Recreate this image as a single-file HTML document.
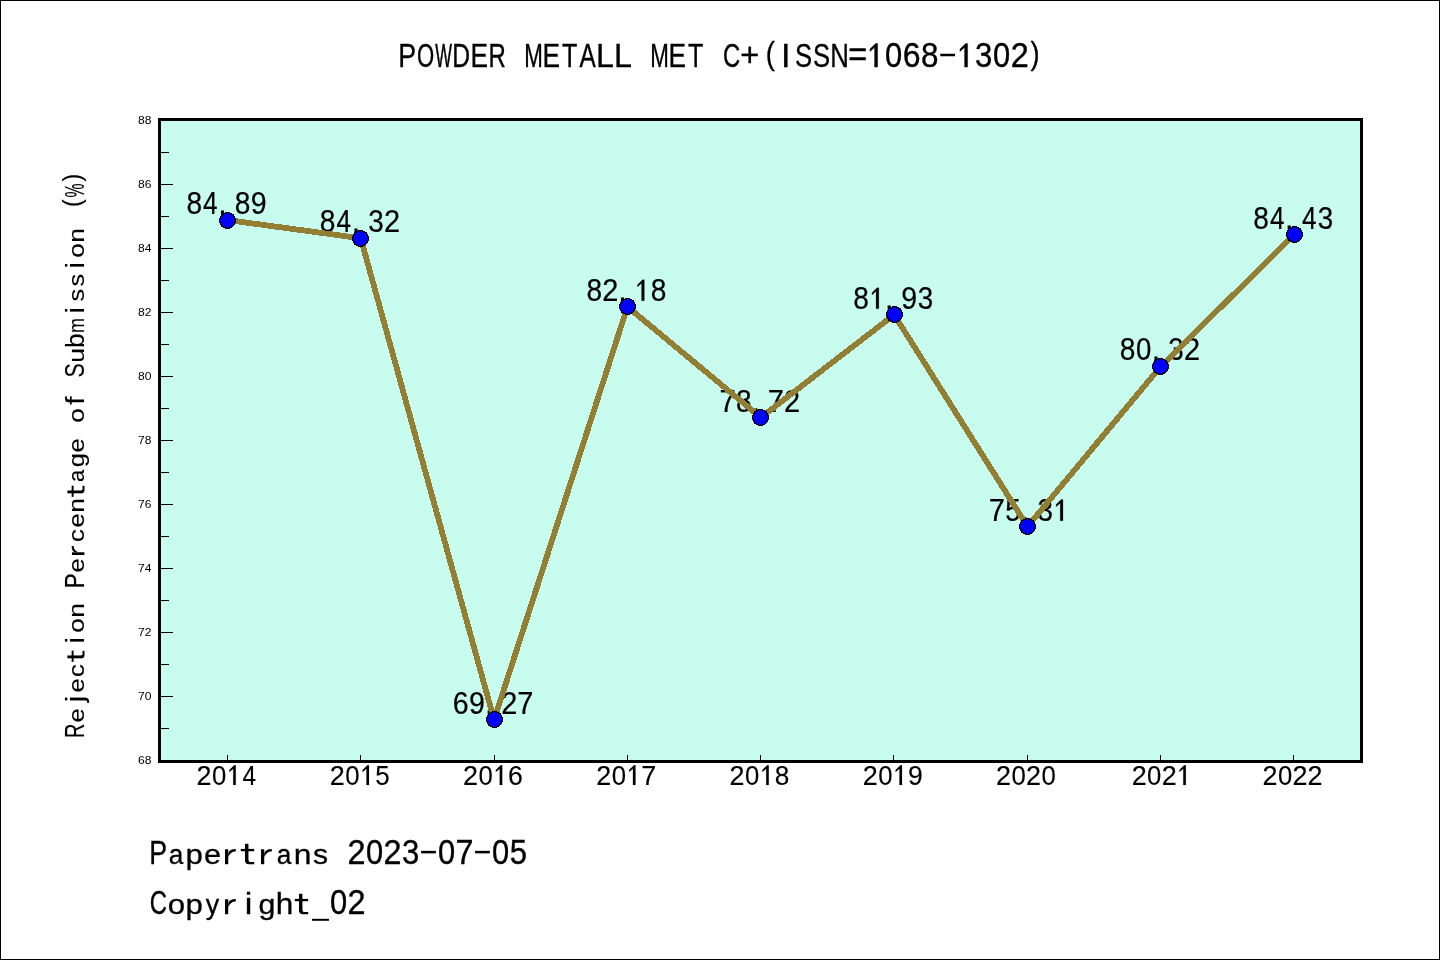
<!DOCTYPE html>
<html><head><meta charset="utf-8"><style>
html,body{margin:0;padding:0;background:#fff;width:1440px;height:960px;overflow:hidden}
svg{display:block;will-change:transform}
svg text{font-family:"Liberation Sans",sans-serif}
</style></head><body>
<svg width="1440" height="960" viewBox="0 0 1440 960">
<rect x="0" y="0" width="1440" height="960" fill="#fff"/>
<rect x="0.5" y="0.5" width="1439" height="959" fill="none" stroke="#000" stroke-width="1"/>
<rect x="159.5" y="119.5" width="1202" height="642" fill="#C8FCEE"/>
<g font-family="Liberation Sans" fill="#000" stroke="#000" stroke-width="0.35">
<g stroke-width="0.35"><text transform="translate(398.35,67.10) scale(0.782,0.960)" font-size="34.16">P</text><text transform="translate(417.04,67.10) scale(0.648,0.960)" font-size="34.16">O</text><text transform="translate(435.29,67.10) scale(0.518,0.960)" font-size="34.16" stroke-width="0.51">W</text><text transform="translate(452.34,67.10) scale(0.721,0.960)" font-size="34.16">D</text><text transform="translate(470.39,67.10) scale(0.768,0.960)" font-size="34.16">E</text><text transform="translate(488.58,67.10) scale(0.701,0.960)" font-size="34.16">R</text><text transform="translate(524.35,67.10) scale(0.654,0.960)" font-size="34.16" stroke-width="0.40">M</text><text transform="translate(542.39,67.10) scale(0.768,0.960)" font-size="34.16">E</text><text transform="translate(561.98,67.10) scale(0.736,0.960)" font-size="34.16">T</text><text transform="translate(579.50,67.10) scale(0.715,0.960)" font-size="34.16">A</text><text transform="translate(595.89,67.10) scale(0.944,0.960)" font-size="34.16">L</text><text transform="translate(613.89,67.10) scale(0.944,0.960)" font-size="34.16">L</text><text transform="translate(650.35,67.10) scale(0.654,0.960)" font-size="34.16" stroke-width="0.40">M</text><text transform="translate(668.39,67.10) scale(0.768,0.960)" font-size="34.16">E</text><text transform="translate(687.98,67.10) scale(0.736,0.960)" font-size="34.16">T</text><text transform="translate(722.88,67.10) scale(0.699,0.960)" font-size="34.16">C</text><text transform="translate(740.14,65.99) scale(0.954,0.948)" font-size="34.16">+</text><text transform="translate(765.75,63.50) scale(0.800,0.916)" font-size="34.16">(</text><text transform="translate(780.90,67.10) scale(1.000,0.960)" font-size="34.16">I</text><text transform="translate(795.11,67.10) scale(0.750,0.960)" font-size="34.16">S</text><text transform="translate(813.11,67.10) scale(0.750,0.960)" font-size="34.16">S</text><text transform="translate(830.34,67.10) scale(0.755,0.960)" font-size="34.16">N</text><text transform="translate(848.14,66.46) scale(0.954,1.000)" font-size="34.16">=</text><polygon points="877.63,43.52 877.63,67.10 874.57,67.10 874.57,47.48 869.96,51.58 869.96,48.99 875.65,43.52"/><text transform="translate(885.06,67.10) scale(0.904,1.000)" font-size="34.16">0</text><text transform="translate(902.65,67.10) scale(0.936,1.000)" font-size="34.16">6</text><text transform="translate(920.90,67.10) scale(0.921,1.000)" font-size="34.16">8</text><rect x="940.27" y="53.74" width="14.76" height="2.52" stroke="none"/><polygon points="967.63,43.52 967.63,67.10 964.57,67.10 964.57,47.48 959.96,51.58 959.96,48.99 965.65,43.52"/><text transform="translate(975.08,67.10) scale(0.911,1.000)" font-size="34.16">3</text><text transform="translate(993.06,67.10) scale(0.904,1.000)" font-size="34.16">0</text><text transform="translate(1010.64,67.10) scale(0.948,1.000)" font-size="34.16">2</text><text transform="translate(1030.45,63.50) scale(0.800,0.916)" font-size="34.16">)</text></g>
<g stroke-width="0.35"><text transform="translate(149.20,864.20) scale(0.782,0.960)" font-size="34.16">P</text><text transform="translate(168.63,864.20) scale(0.769,0.800)" font-size="34.16">a</text><text transform="translate(185.47,864.20) scale(0.914,0.800)" font-size="34.16">p</text><text transform="translate(204.00,864.20) scale(0.898,0.800)" font-size="34.16">e</text><rect x="224.99" y="849.26" width="3.24" height="14.94" stroke="none"/><path d="M228.23,853.40 Q228.95,848.90 235.79,848.90 V851.42 Q230.50,851.24 228.23,857.00 Z" stroke="none"/><rect x="245.01" y="843.79" width="3.42" height="18.00" stroke="none"/><rect x="240.80" y="848.90" width="13.39" height="2.34" stroke="none"/><path d="M245.01,860.60 Q245.01,864.31 248.86,864.31 H254.19 V861.97 H249.58 Q248.75,861.97 248.75,860.60 Z" stroke="none"/><rect x="260.99" y="849.26" width="3.24" height="14.94" stroke="none"/><path d="M264.23,853.40 Q264.95,848.90 271.79,848.90 V851.42 Q266.50,851.24 264.23,857.00 Z" stroke="none"/><text transform="translate(276.63,864.20) scale(0.769,0.800)" font-size="34.16">a</text><text transform="translate(293.64,864.20) scale(0.930,0.800)" font-size="34.16">n</text><text transform="translate(313.09,864.20) scale(0.882,0.800)" font-size="34.16">s</text><text transform="translate(347.49,864.20) scale(0.948,1.000)" font-size="34.16">2</text><text transform="translate(365.91,864.20) scale(0.904,1.000)" font-size="34.16">0</text><text transform="translate(383.49,864.20) scale(0.948,1.000)" font-size="34.16">2</text><text transform="translate(401.93,864.20) scale(0.911,1.000)" font-size="34.16">3</text><rect x="421.12" y="850.84" width="14.76" height="2.52" stroke="none"/><text transform="translate(437.91,864.20) scale(0.904,1.000)" font-size="34.16">0</text><text transform="translate(455.46,864.20) scale(0.950,1.000)" font-size="34.16">7</text><rect x="475.12" y="850.84" width="14.76" height="2.52" stroke="none"/><text transform="translate(491.91,864.20) scale(0.904,1.000)" font-size="34.16">0</text><text transform="translate(509.87,864.20) scale(0.911,1.000)" font-size="34.16">5</text></g>
<g stroke-width="0.35"><text transform="translate(149.73,914.20) scale(0.699,0.960)" font-size="34.16">C</text><text transform="translate(167.81,914.20) scale(0.915,0.800)" font-size="34.16">o</text><text transform="translate(185.47,914.20) scale(0.914,0.800)" font-size="34.16">p</text><text transform="translate(205.77,914.20) scale(0.787,0.800)" font-size="34.16">y</text><rect x="224.99" y="899.26" width="3.24" height="14.94" stroke="none"/><path d="M228.23,903.40 Q228.95,898.90 235.79,898.90 V901.42 Q230.50,901.24 228.23,907.00 Z" stroke="none"/><text transform="translate(244.71,914.20) scale(1.000,0.880)" font-size="34.16">i</text><text transform="translate(258.38,914.20) scale(0.890,0.800)" font-size="34.16">g</text><text transform="translate(275.65,914.20) scale(0.924,0.880)" font-size="34.16">h</text><rect x="299.01" y="893.79" width="3.42" height="18.00" stroke="none"/><rect x="294.80" y="898.90" width="13.39" height="2.34" stroke="none"/><path d="M299.01,910.60 Q299.01,914.31 302.86,914.31 H308.19 V911.97 H303.58 Q302.75,911.97 302.75,910.60 Z" stroke="none"/><rect x="312.04" y="918.81" width="16.92" height="1.98" stroke="none"/><text transform="translate(329.91,914.20) scale(0.904,1.000)" font-size="34.16">0</text><text transform="translate(347.49,914.20) scale(0.948,1.000)" font-size="34.16">2</text></g>
<g transform="rotate(-90)"><g stroke-width="0.14"><text transform="translate(-737.96,84.40) scale(0.701,0.960)" font-size="28.47">R</text><text transform="translate(-722.49,84.40) scale(0.898,0.800)" font-size="28.47">e</text><text transform="translate(-702.26,84.40) scale(1.000,0.880)" font-size="28.47">j</text><text transform="translate(-692.49,84.40) scale(0.898,0.800)" font-size="28.47">e</text><text transform="translate(-677.04,84.40) scale(0.904,0.800)" font-size="28.47">c</text><rect x="-658.31" y="67.39" width="2.85" height="15.00" stroke="none"/><rect x="-661.82" y="71.65" width="11.16" height="1.95" stroke="none"/><path d="M-658.31,81.40 Q-658.31,84.49 -655.10,84.49 H-650.66 V82.54 H-654.50 Q-655.19,82.54 -655.19,81.40 Z" stroke="none"/><text transform="translate(-643.56,84.40) scale(1.000,0.880)" font-size="28.47">i</text><text transform="translate(-632.64,84.40) scale(0.915,0.800)" font-size="28.47">o</text><text transform="translate(-617.78,84.40) scale(0.930,0.800)" font-size="28.47">n</text><text transform="translate(-588.15,84.40) scale(0.782,0.960)" font-size="28.47">P</text><text transform="translate(-572.49,84.40) scale(0.898,0.800)" font-size="28.47">e</text><rect x="-554.99" y="71.95" width="2.70" height="12.45" stroke="none"/><path d="M-552.29,75.40 Q-551.69,71.65 -545.99,71.65 V73.75 Q-550.40,73.60 -552.29,78.40 Z" stroke="none"/><text transform="translate(-542.04,84.40) scale(0.904,0.800)" font-size="28.47">c</text><text transform="translate(-527.49,84.40) scale(0.898,0.800)" font-size="28.47">e</text><text transform="translate(-512.78,84.40) scale(0.930,0.800)" font-size="28.47">n</text><rect x="-493.31" y="67.39" width="2.85" height="15.00" stroke="none"/><rect x="-496.82" y="71.65" width="11.16" height="1.95" stroke="none"/><path d="M-493.31,81.40 Q-493.31,84.49 -490.10,84.49 H-485.66 V82.54 H-489.50 Q-490.19,82.54 -490.19,81.40 Z" stroke="none"/><text transform="translate(-481.96,84.40) scale(0.769,0.800)" font-size="28.47">a</text><text transform="translate(-467.16,84.40) scale(0.890,0.800)" font-size="28.47">g</text><text transform="translate(-452.49,84.40) scale(0.898,0.800)" font-size="28.47">e</text><text transform="translate(-422.64,84.40) scale(0.915,0.800)" font-size="28.47">o</text><text transform="translate(-404.79,84.40) scale(1.050,0.880)" font-size="28.47">f</text><text transform="translate(-377.52,84.40) scale(0.750,0.960)" font-size="28.47">S</text><text transform="translate(-362.74,84.40) scale(0.930,0.800)" font-size="28.47">u</text><text transform="translate(-347.93,84.40) scale(0.914,0.880)" font-size="28.47">b</text><text transform="translate(-332.89,84.40) scale(0.632,0.800)" font-size="28.47">m</text><text transform="translate(-313.56,84.40) scale(1.000,0.880)" font-size="28.47">i</text><text transform="translate(-301.57,84.40) scale(0.882,0.800)" font-size="28.47">s</text><text transform="translate(-286.57,84.40) scale(0.882,0.800)" font-size="28.47">s</text><text transform="translate(-268.56,84.40) scale(1.000,0.880)" font-size="28.47">i</text><text transform="translate(-257.64,84.40) scale(0.915,0.800)" font-size="28.47">o</text><text transform="translate(-242.78,84.40) scale(0.930,0.800)" font-size="28.47">n</text><text transform="translate(-206.98,81.40) scale(0.800,0.916)" font-size="28.47">(</text><text transform="translate(-197.41,84.40) scale(0.554,0.994)" font-size="28.47">%</text><text transform="translate(-181.40,81.40) scale(0.800,0.916)" font-size="28.47">)</text></g></g>
<g stroke-width="0.14"><text transform="translate(196.60,785.00) scale(0.948,1.000)" font-size="28.47">2</text><text transform="translate(211.95,785.00) scale(0.904,1.000)" font-size="28.47">0</text><polygon points="235.76,765.35 235.76,785.00 233.21,785.00 233.21,768.65 229.37,772.07 229.37,769.91 234.11,765.35"/><text transform="translate(242.40,785.00) scale(0.857,1.000)" font-size="28.47">4</text></g>
<g stroke-width="0.14"><text transform="translate(329.85,785.00) scale(0.948,1.000)" font-size="28.47">2</text><text transform="translate(345.20,785.00) scale(0.904,1.000)" font-size="28.47">0</text><polygon points="369.00,765.35 369.00,785.00 366.45,785.00 366.45,768.65 362.61,772.07 362.61,769.91 367.35,765.35"/><text transform="translate(375.16,785.00) scale(0.911,1.000)" font-size="28.47">5</text></g>
<g stroke-width="0.14"><text transform="translate(463.09,785.00) scale(0.948,1.000)" font-size="28.47">2</text><text transform="translate(478.45,785.00) scale(0.904,1.000)" font-size="28.47">0</text><polygon points="502.25,765.35 502.25,785.00 499.70,785.00 499.70,768.65 495.86,772.07 495.86,769.91 500.60,765.35"/><text transform="translate(508.10,785.00) scale(0.936,1.000)" font-size="28.47">6</text></g>
<g stroke-width="0.14"><text transform="translate(596.34,785.00) scale(0.948,1.000)" font-size="28.47">2</text><text transform="translate(611.69,785.00) scale(0.904,1.000)" font-size="28.47">0</text><polygon points="635.50,765.35 635.50,785.00 632.95,785.00 632.95,768.65 629.11,772.07 629.11,769.91 633.85,765.35"/><text transform="translate(641.31,785.00) scale(0.950,1.000)" font-size="28.47">7</text></g>
<g stroke-width="0.14"><text transform="translate(729.59,785.00) scale(0.948,1.000)" font-size="28.47">2</text><text transform="translate(744.95,785.00) scale(0.904,1.000)" font-size="28.47">0</text><polygon points="768.75,765.35 768.75,785.00 766.20,785.00 766.20,768.65 762.36,772.07 762.36,769.91 767.10,765.35"/><text transform="translate(774.81,785.00) scale(0.921,1.000)" font-size="28.47">8</text></g>
<g stroke-width="0.14"><text transform="translate(862.84,785.00) scale(0.948,1.000)" font-size="28.47">2</text><text transform="translate(878.20,785.00) scale(0.904,1.000)" font-size="28.47">0</text><polygon points="902.00,765.35 902.00,785.00 899.45,785.00 899.45,768.65 895.61,772.07 895.61,769.91 900.35,765.35"/><text transform="translate(907.95,785.00) scale(0.935,1.000)" font-size="28.47">9</text></g>
<g stroke-width="0.14"><text transform="translate(996.10,785.00) scale(0.948,1.000)" font-size="28.47">2</text><text transform="translate(1011.45,785.00) scale(0.904,1.000)" font-size="28.47">0</text><text transform="translate(1026.10,785.00) scale(0.948,1.000)" font-size="28.47">2</text><text transform="translate(1041.45,785.00) scale(0.904,1.000)" font-size="28.47">0</text></g>
<g stroke-width="0.14"><text transform="translate(1131.68,785.00) scale(0.948,1.000)" font-size="28.47">2</text><text transform="translate(1147.03,785.00) scale(0.904,1.000)" font-size="28.47">0</text><text transform="translate(1161.68,785.00) scale(0.948,1.000)" font-size="28.47">2</text><polygon points="1185.83,765.35 1185.83,785.00 1183.28,785.00 1183.28,768.65 1179.44,772.07 1179.44,769.91 1184.18,765.35"/></g>
<g stroke-width="0.14"><text transform="translate(1262.59,785.00) scale(0.948,1.000)" font-size="28.47">2</text><text transform="translate(1277.94,785.00) scale(0.904,1.000)" font-size="28.47">0</text><text transform="translate(1292.59,785.00) scale(0.948,1.000)" font-size="28.47">2</text><text transform="translate(1307.59,785.00) scale(0.948,1.000)" font-size="28.47">2</text></g>
<g stroke-width="0.22"><text transform="translate(186.38,214.12) scale(0.921,1.000)" font-size="30.56">8</text><text transform="translate(203.10,214.12) scale(0.857,1.000)" font-size="30.56">4</text><text transform="translate(218.29,214.12) scale(1.000,1.000)" font-size="30.56">.</text><text transform="translate(234.68,214.12) scale(0.921,1.000)" font-size="30.56">8</text><text transform="translate(250.66,214.12) scale(0.935,1.000)" font-size="30.56">9</text></g>
<g stroke-width="0.22"><text transform="translate(319.72,232.36) scale(0.921,1.000)" font-size="30.56">8</text><text transform="translate(336.45,232.36) scale(0.857,1.000)" font-size="30.56">4</text><text transform="translate(351.64,232.36) scale(1.000,1.000)" font-size="30.56">.</text><text transform="translate(368.19,232.36) scale(0.911,1.000)" font-size="30.56">3</text><text transform="translate(383.89,232.36) scale(0.948,1.000)" font-size="30.56">2</text></g>
<g stroke-width="0.22"><text transform="translate(452.84,713.96) scale(0.936,1.000)" font-size="30.56">6</text><text transform="translate(469.06,713.96) scale(0.935,1.000)" font-size="30.56">9</text><text transform="translate(484.99,713.96) scale(1.000,1.000)" font-size="30.56">.</text><text transform="translate(501.14,713.96) scale(0.948,1.000)" font-size="30.56">2</text><text transform="translate(517.21,713.96) scale(0.950,1.000)" font-size="30.56">7</text></g>
<g stroke-width="0.22"><text transform="translate(586.43,300.84) scale(0.921,1.000)" font-size="30.56">8</text><text transform="translate(602.29,300.84) scale(0.948,1.000)" font-size="30.56">2</text><text transform="translate(618.34,300.84) scale(1.000,1.000)" font-size="30.56">.</text><polygon points="644.32,279.75 644.32,300.84 641.58,300.84 641.58,283.29 637.46,286.96 637.46,284.64 642.55,279.75"/><text transform="translate(650.83,300.84) scale(0.921,1.000)" font-size="30.56">8</text></g>
<g stroke-width="0.22"><text transform="translate(719.51,411.56) scale(0.950,1.000)" font-size="30.56">7</text><text transform="translate(735.88,411.56) scale(0.921,1.000)" font-size="30.56">8</text><text transform="translate(751.69,411.56) scale(1.000,1.000)" font-size="30.56">.</text><text transform="translate(767.81,411.56) scale(0.950,1.000)" font-size="30.56">7</text><text transform="translate(783.94,411.56) scale(0.948,1.000)" font-size="30.56">2</text></g>
<g stroke-width="0.22"><text transform="translate(853.13,308.84) scale(0.921,1.000)" font-size="30.56">8</text><polygon points="878.82,287.75 878.82,308.84 876.08,308.84 876.08,291.29 871.96,294.96 871.96,292.64 877.05,287.75"/><text transform="translate(885.04,308.84) scale(1.000,1.000)" font-size="30.56">.</text><text transform="translate(901.31,308.84) scale(0.935,1.000)" font-size="30.56">9</text><text transform="translate(917.69,308.84) scale(0.911,1.000)" font-size="30.56">3</text></g>
<g stroke-width="0.22"><text transform="translate(988.71,520.68) scale(0.950,1.000)" font-size="30.56">7</text><text transform="translate(1005.18,520.68) scale(0.911,1.000)" font-size="30.56">5</text><text transform="translate(1020.89,520.68) scale(1.000,1.000)" font-size="30.56">.</text><text transform="translate(1037.44,520.68) scale(0.911,1.000)" font-size="30.56">3</text><polygon points="1062.97,499.59 1062.97,520.68 1060.23,520.68 1060.23,503.13 1056.11,506.80 1056.11,504.48 1061.20,499.59"/></g>
<g stroke-width="0.22"><text transform="translate(1119.82,360.36) scale(0.921,1.000)" font-size="30.56">8</text><text transform="translate(1136.07,360.36) scale(0.904,1.000)" font-size="30.56">0</text><text transform="translate(1151.74,360.36) scale(1.000,1.000)" font-size="30.56">.</text><text transform="translate(1168.29,360.36) scale(0.911,1.000)" font-size="30.56">3</text><text transform="translate(1183.99,360.36) scale(0.948,1.000)" font-size="30.56">2</text></g>
<g stroke-width="0.22"><text transform="translate(1253.18,228.84) scale(0.921,1.000)" font-size="30.56">8</text><text transform="translate(1269.90,228.84) scale(0.857,1.000)" font-size="30.56">4</text><text transform="translate(1285.09,228.84) scale(1.000,1.000)" font-size="30.56">.</text><text transform="translate(1302.10,228.84) scale(0.857,1.000)" font-size="30.56">4</text><text transform="translate(1317.74,228.84) scale(0.911,1.000)" font-size="30.56">3</text></g>
</g>
<text transform="translate(151.5,763.50) scale(1.1,1)" text-anchor="end" font-family="Liberation Sans" font-size="11" fill="#000">68</text>
<text transform="translate(151.5,699.50) scale(1.1,1)" text-anchor="end" font-family="Liberation Sans" font-size="11" fill="#000">70</text>
<text transform="translate(151.5,635.50) scale(1.1,1)" text-anchor="end" font-family="Liberation Sans" font-size="11" fill="#000">72</text>
<text transform="translate(151.5,571.50) scale(1.1,1)" text-anchor="end" font-family="Liberation Sans" font-size="11" fill="#000">74</text>
<text transform="translate(151.5,507.50) scale(1.1,1)" text-anchor="end" font-family="Liberation Sans" font-size="11" fill="#000">76</text>
<text transform="translate(151.5,443.50) scale(1.1,1)" text-anchor="end" font-family="Liberation Sans" font-size="11" fill="#000">78</text>
<text transform="translate(151.5,379.50) scale(1.1,1)" text-anchor="end" font-family="Liberation Sans" font-size="11" fill="#000">80</text>
<text transform="translate(151.5,315.50) scale(1.1,1)" text-anchor="end" font-family="Liberation Sans" font-size="11" fill="#000">82</text>
<text transform="translate(151.5,251.50) scale(1.1,1)" text-anchor="end" font-family="Liberation Sans" font-size="11" fill="#000">84</text>
<text transform="translate(151.5,187.50) scale(1.1,1)" text-anchor="end" font-family="Liberation Sans" font-size="11" fill="#000">86</text>
<text transform="translate(151.5,123.50) scale(1.1,1)" text-anchor="end" font-family="Liberation Sans" font-size="11" fill="#000">88</text>
<rect x="161" y="760.00" width="12" height="1" fill="#000"/>
<rect x="161" y="728.00" width="8" height="1" fill="#000"/>
<rect x="161" y="696.00" width="12" height="1" fill="#000"/>
<rect x="161" y="664.00" width="8" height="1" fill="#000"/>
<rect x="161" y="632.00" width="12" height="1" fill="#000"/>
<rect x="161" y="600.00" width="8" height="1" fill="#000"/>
<rect x="161" y="568.00" width="12" height="1" fill="#000"/>
<rect x="161" y="536.00" width="8" height="1" fill="#000"/>
<rect x="161" y="504.00" width="12" height="1" fill="#000"/>
<rect x="161" y="472.00" width="8" height="1" fill="#000"/>
<rect x="161" y="440.00" width="12" height="1" fill="#000"/>
<rect x="161" y="408.00" width="8" height="1" fill="#000"/>
<rect x="161" y="376.00" width="12" height="1" fill="#000"/>
<rect x="161" y="344.00" width="8" height="1" fill="#000"/>
<rect x="161" y="312.00" width="12" height="1" fill="#000"/>
<rect x="161" y="280.00" width="8" height="1" fill="#000"/>
<rect x="161" y="248.00" width="12" height="1" fill="#000"/>
<rect x="161" y="216.00" width="8" height="1" fill="#000"/>
<rect x="161" y="184.00" width="12" height="1" fill="#000"/>
<rect x="161" y="152.00" width="8" height="1" fill="#000"/>
<rect x="161" y="120.00" width="12" height="1" fill="#000"/>
<rect x="227" y="755" width="1" height="5" fill="#000"/>
<rect x="360" y="755" width="1" height="5" fill="#000"/>
<rect x="494" y="755" width="1" height="5" fill="#000"/>
<rect x="627" y="755" width="1" height="5" fill="#000"/>
<rect x="760" y="755" width="1" height="5" fill="#000"/>
<rect x="893" y="755" width="1" height="5" fill="#000"/>
<rect x="1027" y="755" width="1" height="5" fill="#000"/>
<rect x="1160" y="755" width="1" height="5" fill="#000"/>
<rect x="1293" y="755" width="1" height="5" fill="#000"/>
<rect x="159.5" y="119.5" width="1202" height="642" fill="none" stroke="#000" stroke-width="3"/>
<polyline points="227.40,220.02 360.75,238.26 494.10,719.86 627.45,306.74 760.80,417.46 894.15,314.74 1027.50,526.58 1160.85,366.26 1294.20,234.74" fill="none" stroke="#937F33" stroke-width="5.8" stroke-linejoin="round" shape-rendering="crispEdges"/>
<circle cx="227.50" cy="220.50" r="7.9" fill="#0000FF" stroke="#000" stroke-width="1.2" shape-rendering="crispEdges"/>
<circle cx="360.50" cy="238.50" r="7.9" fill="#0000FF" stroke="#000" stroke-width="1.2" shape-rendering="crispEdges"/>
<circle cx="494.50" cy="719.50" r="7.9" fill="#0000FF" stroke="#000" stroke-width="1.2" shape-rendering="crispEdges"/>
<circle cx="627.50" cy="306.50" r="7.9" fill="#0000FF" stroke="#000" stroke-width="1.2" shape-rendering="crispEdges"/>
<circle cx="760.50" cy="417.50" r="7.9" fill="#0000FF" stroke="#000" stroke-width="1.2" shape-rendering="crispEdges"/>
<circle cx="894.50" cy="314.50" r="7.9" fill="#0000FF" stroke="#000" stroke-width="1.2" shape-rendering="crispEdges"/>
<circle cx="1027.50" cy="526.50" r="7.9" fill="#0000FF" stroke="#000" stroke-width="1.2" shape-rendering="crispEdges"/>
<circle cx="1160.50" cy="366.50" r="7.9" fill="#0000FF" stroke="#000" stroke-width="1.2" shape-rendering="crispEdges"/>
<circle cx="1294.50" cy="234.50" r="7.9" fill="#0000FF" stroke="#000" stroke-width="1.2" shape-rendering="crispEdges"/>
</svg>
</body></html>
